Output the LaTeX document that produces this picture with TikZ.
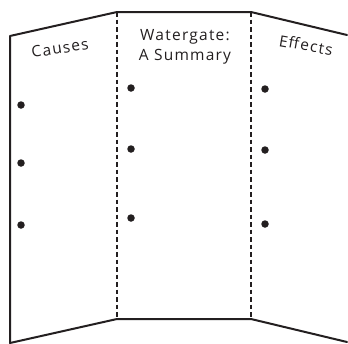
\documentclass[tikz,border=0pt]{standalone}
\usepackage{fontspec}
\setmainfont{Open Sans}[LetterSpace=8]
\usepackage{xcolor}
\definecolor{ink}{HTML}{231F20}
\usetikzlibrary{positioning}
\tikzset{
  edge/.style={draw=ink,line width=2pt,line cap=round,line join=round},
  fold/.style={draw=ink,line width=1.9pt,dash pattern=on 4.5pt off 3pt},
  dot/.style={circle,fill=ink,inner sep=0pt,minimum size=7.5pt},
  title/.style={font=\fontsize{15.5}{20}\selectfont,text=ink,align=center,inner sep=0pt},
}
\begin{document}
\begin{tikzpicture}[x=1pt,y=-1pt]
\useasboundingbox (0,0) rectangle (348,343);
% corners of the foldable
\coordinate (ltop) at (10,36);
\coordinate (lbot) at (10,343);
\coordinate (mtl) at (117,12);
\coordinate (mtr) at (251,12);
\coordinate (mbl) at (117,319);
\coordinate (mbr) at (251,319);
\coordinate (rtop) at (347,35);
\coordinate (rbot) at (347,342);
% outline
\draw[edge] (lbot) -- (ltop) -- (mtl) -- (mtr) -- (rtop);
\draw[edge] (lbot) -- (mbl) -- (mbr) -- (rbot);
% folds
\draw[fold] (mtl) -- (mbl);
\draw[fold] (mtr) -- (mbr);
% titles
\node[title,rotate=9] (causes) at (60,48) {Causes};
\node[title] (mid) at (185,47) {Watergate:\\A Summary};
\node[title,rotate=-10] (effects) at (306,45) {Effects};
% bullets
\foreach \y [count=\i] in {105,163,225}{\node[dot] (l\i) at (21,\y) {};}
\foreach \y [count=\i] in {88,149,218}{\node[dot] (m\i) at (131,\y) {};}
\foreach \y [count=\i] in {89,150,224}{\node[dot] (r\i) at (265,\y) {};}
\end{tikzpicture}
\end{document}
